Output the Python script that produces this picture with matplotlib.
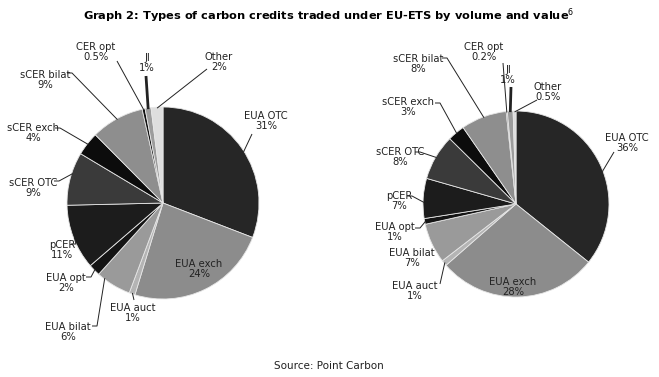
import numpy as np
import matplotlib
matplotlib.use("Agg")
import matplotlib.pyplot as plt

W, H = 659, 377  # figure size in pixels

# categories, clockwise from 12 o'clock
categories = ["EUA OTC", "EUA exch", "EUA auct", "EUA bilat", "EUA opt", "pCER",
              "sCER OTC", "sCER exch", "sCER bilat", "CER opt", "JI", "Other"]
volume_share = [31, 24, 1, 6, 2, 11, 9, 4, 9, 0.5, 1, 2]
value_share = [36, 28, 1, 7, 1, 7, 8, 3, 8, 0.2, 1, 0.5]
volume_labels = ["31%", "24%", "1%", "6%", "2%", "11%", "9%", "4%", "9%", "0.5%", "1%", "2%"]
value_labels = ["36%", "28%", "1%", "7%", "1%", "7%", "8%", "3%", "8%", "0.2%", "1%", "0.5%"]

colors = ["#262626", "#8c8c8c", "#b4b4b4", "#9a9a9a", "#141414", "#1c1c1c",
          "#3a3a3a", "#0c0c0c", "#8e8e8e", "#101010", "#9c9c9c", "#dedede"]

# layout (pixels, y measured from top): pie centre, radius, label centres, leader starts,
# where along each wedge (0 = first edge, 1 = last edge) the leader lands, stub length
left_pie = dict(center=(163, 203), radius=96,
                text=[(266, 121), (199, 269), (133, 313), (68, 332), (66, 283), (62, 250),
                      (33, 188), (33, 133), (45, 80), (96, 52), (147, 63), (219, 62)],
                lead=[(252, 134), None, (134, 300), (97, 326), (91, 277), (76, 244),
                      (59, 181), (60, 128), (72, 73), (117, 61), (146, 76), (207, 69)],
                at=[0.52, 0.5, 0.5, 0.8, 0.5, 0.5, 0.6, 0.5, 0.5, 0.5, 0.5, 0.5],
                stub=[0, 0, 0, 5, 5, 5, 5, 5, 5, 0, 0, 0])
right_pie = dict(center=(516, 204), radius=93,
                 text=[(627, 143), (513, 287), (415, 291), (412, 258), (395, 232), (399, 201),
                       (400, 157), (408, 107), (418, 64), (484, 52), (508, 75), (548, 92)],
                 lead=[(614, 152), None, (440, 284), None, (420, 228), (412, 196),
                       (420, 152), (440, 103), (447, 58), (503, 63), (511, 87), (537, 100)],
                 at=[0.54, 0.5, 0.5, 0.5, 0.5, 0.4, 0.5, 0.5, 0.5, 0.5, 0.5, 0.5],
                 stub=[0, 0, 0, 0, 5, 5, 5, 5, 5, 0, 0, 0])

fig = plt.figure(figsize=(W / 100, H / 100), dpi=100)
ax = fig.add_axes([0, 0, 1, 1])

lab_font = dict(family="DejaVu Sans", size=7.2, color="#222222")


def draw_pie(values, pct, lay):
    cx, cy = lay["center"]
    r = lay["radius"]
    wedges, _ = ax.pie(values, colors=colors, startangle=90, counterclock=False,
                       center=(cx, H - cy), radius=r, frame=True,
                       wedgeprops=dict(edgecolor="#e6e6e6", linewidth=0.6))
    for i, w in enumerate(wedges):
        tx, ty = lay["text"][i]
        ax.text(tx, H - ty, categories[i] + "\n" + pct[i], ha="center", va="center",
                linespacing=1.1, **lab_font)
        start = lay["lead"][i]
        if start is None:
            continue
        # wedges run clockwise, so theta2 is the leading edge
        f = lay["at"][i]
        ang = np.deg2rad(w.theta2 + (w.theta1 - w.theta2) * f)
        ex, ey = cx + r * 0.99 * np.cos(ang), (H - cy) + r * 0.99 * np.sin(ang)
        lw = 2.0 if categories[i] == "JI" else 0.7
        s = lay["stub"][i]
        ax.plot([start[0] - s, start[0], ex], [H - start[1], H - start[1], ey],
                color="#222222", lw=lw, solid_capstyle="butt")


draw_pie(volume_share, volume_labels, left_pie)
draw_pie(value_share, value_labels, right_pie)

ax.set_xlim(0, W)
ax.set_ylim(0, H)
ax.set_aspect("equal")
ax.axis("off")

fig.text(329 / W, 1 - 16 / H,
         "Graph 2: Types of carbon credits traded under EU-ETS by volume and value$^{6}$",
         ha="center", va="center", fontsize=8.2, fontweight="bold", family="DejaVu Sans")
fig.text(329 / W, 1 - 366 / H, "Source: Point Carbon", ha="center", va="center",
         fontsize=7.5, family="DejaVu Sans", color="#222222")

fig.savefig("out.png", dpi=100, facecolor="white")
